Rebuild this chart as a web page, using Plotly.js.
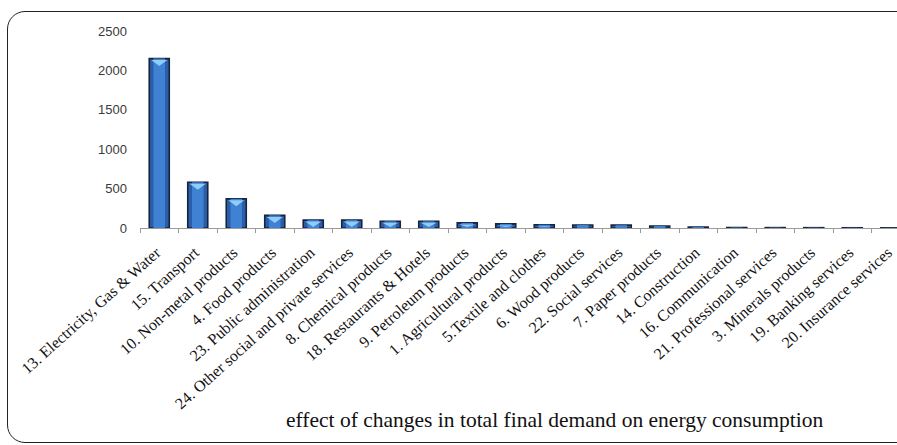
<!DOCTYPE html>
<html>
<head>
<meta charset="utf-8">
<script src="https://cdn.plot.ly/plotly-3.0.1.min.js"></script>
<style>
  html, body { margin: 0; padding: 0; background: #ffffff; overflow: hidden; }
  #wrap { position: relative; width: 897px; height: 445px; overflow: hidden; }
  #frame {
    position: absolute; left: 7px; top: 11px; right: -80px; height: 432px;
    border: 1.5px solid #222; border-radius: 18px; box-sizing: border-box;
  }
  #chart { position: absolute; left: 0; top: 0; width: 897px; height: 445px; }
</style>
</head>
<body>
<div id="wrap">
  <div id="frame"></div>
  <div id="chart"></div>
</div>
<script>
// Sectors, ordered by size of effect
const sectors = [
  "13. Electricity, Gas & Water",
  "15. Transport",
  "10. Non-metal products",
  "4. Food products",
  "23. Public administration",
  "24. Other social and private services",
  "8. Chemical products",
  "18. Restaurants & Hotels",
  "9. Petroleum products",
  "1. Agricultural products",
  "5.Textile and clothes",
  "6. Wood products",
  "22. Social services",
  "7. Paper products",
  "14. Construction",
  "16. Communication",
  "21. Professional services",
  "3. Minerals products",
  "19. Banking services",
  "20. Insurance services"
];

// Effect on energy consumption
const effectValues = [2150, 580, 370, 160, 100, 100, 85, 85, 65, 52, 42, 38, 36, 25, 12, 6, 5, 4, 3, 2];

const yTickValues = [0, 500, 1000, 1500, 2000, 2500];

const chartTitle = "effect of changes in total final demand on energy consumption";

const W = 897, H = 445;
const margin = { l: 140, r: 0, t: 31, b: 217 };
const plotW = W - margin.l - margin.r;
const plotH = H - margin.t - margin.b;
const catWidthPx = 38.5;
const xEnd = -0.5 + plotW / catWidthPx;
const yMax = 2500;

// title position in paper units
const titleX = (554 - margin.l) / plotW;
const titleY = (margin.t + plotH - 420) / plotH;

// main bar body with dark outline
const bodyTrace = {
  type: "bar",
  x: sectors,
  y: effectValues,
  width: 0.52,
  marker: { color: "#2a5ea9", line: { color: "#16243f", width: 1.6 } },
  hoverinfo: "x+y"
};

// lighter centre strip gives the rounded, cylinder-like shading
const shineTrace = {
  type: "bar",
  x: sectors,
  y: effectValues,
  width: 0.3,
  marker: { color: "#3f82d4", line: { width: 0 } },
  hoverinfo: "skip"
};

// light bevel on top of each bar, sized in pixels and anchored to the bar value
const pxPerUnit = plotH / yMax;
const bevels = [];
effectValues.forEach((v, i) => {
  const hPx = v * pxPerUnit;
  if (hPx < 3) return;
  const depth = Math.min(6, hPx - 2.5);
  const half = 8;
  bevels.push({
    type: "path",
    xref: "x", yref: "y",
    xsizemode: "pixel", ysizemode: "pixel",
    xanchor: i, yanchor: v,
    path: `M ${-half},-1.5 L ${half},-1.5 L 0,${-1.5 - depth} Z`,
    fillcolor: "#8fcdf6",
    line: { width: 0 },
    layer: "above"
  });
});

const layout = {
  width: W,
  height: H,
  margin: margin,
  paper_bgcolor: "rgba(0,0,0,0)",
  plot_bgcolor: "rgba(0,0,0,0)",
  showlegend: false,
  barmode: "overlay",
  xaxis: {
    type: "category",
    range: [-0.5, xEnd],
    showline: true,
    linecolor: "#9a9a9a",
    linewidth: 1,
    ticks: "outside",
    tickson: "boundaries",
    ticklen: 4,
    tickcolor: "#9a9a9a",
    tickangle: -42,
    ticklabelstandoff: 8,
    ticklabelshift: -3,
    tickfont: { family: "Liberation Serif, Times New Roman, serif", size: 16, color: "#111" },
    showgrid: false,
    zeroline: false,
    fixedrange: true
  },
  yaxis: {
    range: [0, yMax],
    tickvals: yTickValues,
    ticktext: yTickValues.map(String),
    showline: false,
    showgrid: false,
    zeroline: false,
    ticks: "",
    ticklabelstandoff: 12,
    tickfont: { family: "Liberation Sans, Arial, sans-serif", size: 13, color: "#3a3a3a" },
    fixedrange: true
  },
  shapes: bevels,
  annotations: [{
    text: chartTitle,
    xref: "paper", yref: "paper",
    x: titleX, y: titleY,
    xanchor: "center", yanchor: "middle",
    showarrow: false,
    font: { family: "Liberation Serif, Times New Roman, serif", size: 21.5, color: "#111" }
  }]
};

Plotly.newPlot("chart", [bodyTrace, shineTrace], layout, { displayModeBar: false, staticPlot: true });
</script>
</body>
</html>
